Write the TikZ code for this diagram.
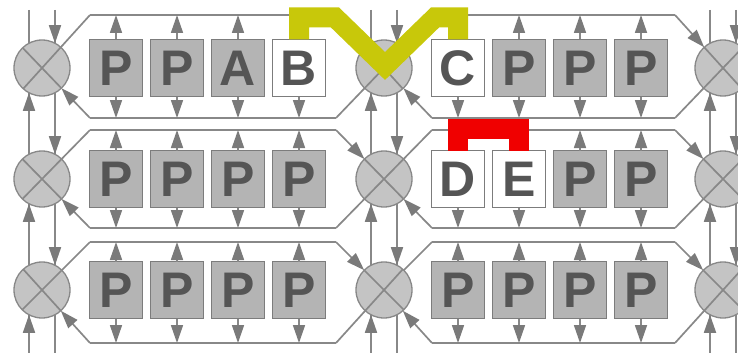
\documentclass[tikz,border=0pt]{standalone}
\usepackage{fontspec}
\setmainfont{Liberation Sans}
\usetikzlibrary{arrows.meta,calc}
\definecolor{lin}{HTML}{888888}
\definecolor{arrc}{HTML}{7A7A7A}
\definecolor{swfill}{HTML}{C4C4C4}
\definecolor{boxfill}{HTML}{B4B4B4}
\definecolor{boxdraw}{HTML}{7C7C7C}
\definecolor{txt}{HTML}{555555}
\definecolor{yel}{RGB}{200,200,10}
\definecolor{redc}{RGB}{240,0,0}
\begin{document}
\begin{tikzpicture}[x=1pt,y=-1pt,
  wire/.style={draw=lin, line width=1.7pt},
  arr/.style={wire, -{Triangle[length=18pt,width=12pt,color=arrc]}},
  sw/.style={circle, draw=lin, line width=1.3pt, fill=swfill, minimum size=56pt, inner sep=0pt, outer sep=0pt},
  box/.style={rectangle, draw=boxdraw, line width=1.3pt, minimum width=53pt, minimum height=57pt, inner sep=0pt, outer sep=0pt, font=\fontsize{50}{50}\selectfont\bfseries, text=txt},
  band/.style={line width=20pt, line join=miter, line cap=butt}
]
\fill[white] (0,0) rectangle (738,353);
\useasboundingbox (0,0) rectangle (738,353);

% vertical buses
\foreach \sx [count=\j] in {42,384,723}{
  \coordinate (vlt\j) at (\sx-13,10); \coordinate (vlb\j) at (\sx-13,353);
  \coordinate (vrt\j) at (\sx+13,10); \coordinate (vrb\j) at (\sx+13,353);
  \draw[wire] (vlt\j) -- (vlb\j);
  \draw[wire] (vrt\j) -- (vrb\j);
}

% switches and rings
\foreach \r/\c/\t/\b in {1/68/15/118, 2/179/130/228, 3/290/242/343}{
  \node[sw] (s\r0) at (42,\c) {};
  \node[sw] (s\r1) at (384,\c) {};
  \node[sw] (s\r2) at (723,\c) {};
  \coordinate (tl\r0) at (90,\t);  \coordinate (tr\r0) at (336,\t);
  \coordinate (bl\r0) at (90,\b);  \coordinate (br\r0) at (336,\b);
  \coordinate (tl\r1) at (432,\t); \coordinate (tr\r1) at (675,\t);
  \coordinate (bl\r1) at (432,\b); \coordinate (br\r1) at (675,\b);
  \draw[wire] (tl\r0) -- (tr\r0);
  \draw[wire] (bl\r0) -- (br\r0);
  \draw[wire] (tl\r1) -- (tr\r1);
  \draw[wire] (bl\r1) -- (br\r1);
  \draw[arr] (tr\r0) -- (s\r1);
  \draw[wire] (br\r0) -- (s\r1);
  \draw[wire] (tl\r0) -- (s\r0);
  \draw[arr] (bl\r0) -- (s\r0);
  \draw[arr] (tr\r1) -- (s\r2);
  \draw[wire] (br\r1) -- (s\r2);
  \draw[wire] (tl\r1) -- (s\r1);
  \draw[arr] (bl\r1) -- (s\r1);
  % crosses
  \draw[wire] ($(s\r0.center)!27.5pt!(tl\r0)$) -- ($(s\r0.center)!-27.5pt!(tl\r0)$);
  \draw[wire] ($(s\r0.center)!27.5pt!(bl\r0)$) -- ($(s\r0.center)!-27.5pt!(bl\r0)$);
  \draw[wire] ($(s\r1.center)!27.5pt!(tr\r0)$) -- ($(s\r1.center)!-27.5pt!(tr\r0)$);
  \draw[wire] ($(s\r1.center)!27.5pt!(br\r0)$) -- ($(s\r1.center)!-27.5pt!(br\r0)$);
  \draw[wire] ($(s\r2.center)!27.5pt!(tr\r1)$) -- ($(s\r2.center)!-27.5pt!(tr\r1)$);
  \draw[wire] ($(s\r2.center)!27.5pt!(br\r1)$) -- ($(s\r2.center)!-27.5pt!(br\r1)$);
  % bus arrows into switches
  \foreach \j in {0,1,2}{
    \draw[arr] ($(s\r\j.center)+(13,-48)$) -- ($(s\r\j.center)+(13,-24.8)$);
    \draw[arr] ($(s\r\j.center)+(-13,48)$) -- ($(s\r\j.center)+(-13,24.8)$);
  }
}

% boxes row 1
\foreach \k/\x/\l/\fc/\u in {1/116/P/boxfill/1, 2/177/P/boxfill/1, 3/238/A/boxfill/1, 4/299/B/white/0, 5/458/C/white/0, 6/519/P/boxfill/1, 7/580/P/boxfill/1, 8/641/P/boxfill/1}{
  \node[box, fill=\fc] (b1\k) at (\x,68) {\l};
  \draw[arr] (b1\k.south) -- (b1\k.south |- bl10);
  \ifnum\u=1 \draw[arr] (b1\k.north) -- (b1\k.north |- tl10); \fi
}
% boxes row 2
\foreach \k/\x/\l/\fc/\u in {1/116/P/boxfill/1, 2/177/P/boxfill/1, 3/238/P/boxfill/1, 4/299/P/boxfill/1, 5/458/D/white/0, 6/519/E/white/0, 7/580/P/boxfill/1, 8/641/P/boxfill/1}{
  \node[box, fill=\fc] (b2\k) at (\x,179) {\l};
  \draw[arr] (b2\k.south) -- (b2\k.south |- bl20);
  \ifnum\u=1 \draw[arr] (b2\k.north) -- (b2\k.north |- tl20); \fi
}
% boxes row 3
\foreach \k/\x in {1/116, 2/177, 3/238, 4/299, 5/458, 6/519, 7/580, 8/641}{
  \node[box, fill=boxfill] (b3\k) at (\x,290) {P};
  \draw[arr] (b3\k.south) -- (b3\k.south |- bl30);
  \draw[arr] (b3\k.north) -- (b3\k.north |- tl30);
}

% highlighted paths
\coordinate (ya) at (335,17.5);
\coordinate (yv) at (385,66);
\coordinate (yb) at (435,17.5);
\draw[band, draw=yel] (b14.north) |- (ya) -- (yv) -- (yb) -| (b15.north);
\coordinate (rt) at (488,129);
\draw[band, draw=redc] (b25.north) |- (rt) -| (b26.north);
\end{tikzpicture}
\end{document}
